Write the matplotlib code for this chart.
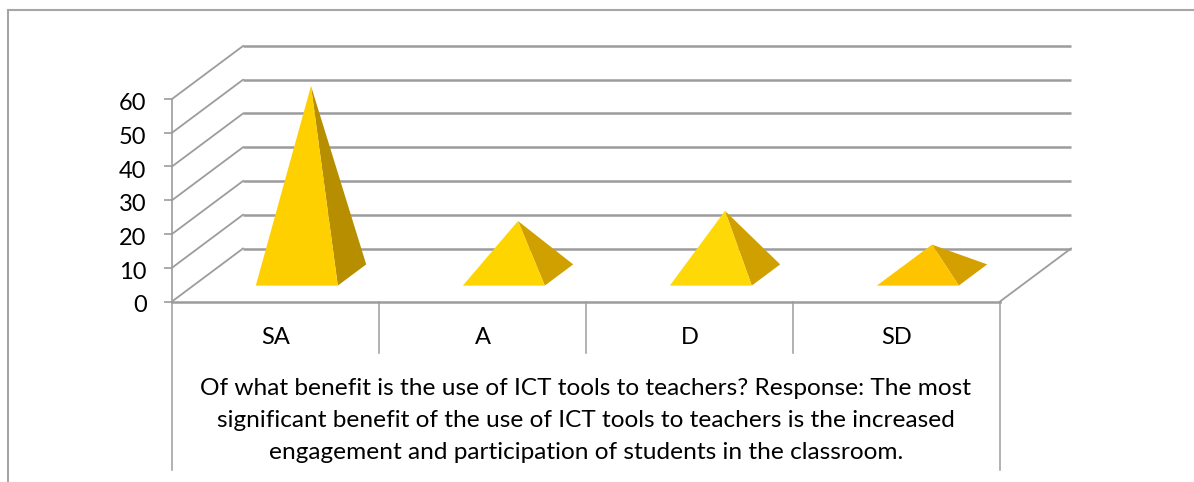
import matplotlib
matplotlib.use("Agg")
import matplotlib.pyplot as plt
from matplotlib.lines import Line2D
from matplotlib.transforms import ScaledTranslation

plt.rcParams['font.family'] = ['Lato', 'DejaVu Sans']

categories = ["SA", "A", "D", "SD"]
values = [56, 16, 19, 9]
front_colors = ["#FFD000", "#FFD500", "#FFD808", "#FFC400"]
side_colors = ["#B78E00", "#D0A000", "#CFA000", "#D4A000"]
y_ticks = [0, 10, 20, 30, 40, 50, 60]
axis_title = ("Of what benefit is the use of ICT tools to teachers? Response: The most\n"
              "significant benefit of the use of ICT tools to teachers is the increased\n"
              "engagement and participation of students in the classroom.")

W, H = 1194, 482
L, R, T, B = 172, 1000, 99, 301.5
fig = plt.figure(figsize=(W / 100, H / 100), dpi=100, facecolor="white")
ax = fig.add_axes([L / W, 1 - B / H, (R - L) / W, (B - T) / H])
ax.set_xlim(0, 4)
ax.set_ylim(0, 60)
ax.patch.set_alpha(0)

GRID = "#9C9C9C"
PX_X = 4 / (R - L)
PX_Y = 60 / (B - T)
DX = 71 * PX_X   # depth of the 3D box, in data units
DY = 53 * PX_Y


def proj(x, y, d):
    return x + d * DX, y + d * DY


# Wall gridlines and floor
for v in y_ticks:
    x0, y0 = proj(0, v, 0)
    x1, y1 = proj(0, v, 1)
    x2, y2 = proj(4, v, 1)
    ax.plot([x0, x1], [y0, y1], color=GRID, lw=1.3, clip_on=False, zorder=1)
    ax.plot([x1, x2], [y1, y2], color=GRID, lw=1.8, clip_on=False, zorder=1,
            solid_capstyle="butt")
fx, fy = proj(4, 0, 1)
ax.plot([4, fx], [0, fy], color=GRID, lw=1.3, clip_on=False, zorder=1)

# Pyramids
HALF = 41 * PX_X
BASE_FRONT, BASE_BACK, CENTER = 0.3, 0.7, 0.5
for i, (val, fc, sc) in enumerate(zip(values, front_colors, side_colors)):
    cx = i + 0.5
    fl = proj(cx - HALF, 0, BASE_FRONT)
    fr = proj(cx + HALF, 0, BASE_FRONT)
    br = proj(cx + HALF, 0, BASE_BACK)
    apex = proj(cx, val, CENTER)
    ax.fill([fr[0], br[0], apex[0]], [fr[1], br[1], apex[1]], color=sc, lw=0,
            clip_on=False, zorder=3)
    ax.fill([fl[0], fr[0], apex[0]], [fl[1], fr[1], apex[1]], color=fc, lw=0,
            clip_on=False, zorder=4)

# Axes
for s in ("top", "right"):
    ax.spines[s].set_visible(False)
ax.spines["left"].set_color(GRID)
ax.spines["left"].set_linewidth(1.2)
ax.spines["bottom"].set_color(GRID)
ax.spines["bottom"].set_linewidth(1.8)
ax.set_yticks(y_ticks)
ax.tick_params(axis="y", length=5.8, width=1.2, color=GRID, pad=12.5,
               labelsize=17, labelcolor="black")
shift = ScaledTranslation(0, -2.5 / 100, fig.dpi_scale_trans)
for lab in ax.get_yticklabels():
    lab.set_transform(lab.get_transform() + shift)
ax.set_xticks([i + 0.5 for i in range(len(categories))], categories)
ax.tick_params(axis="x", length=0, pad=18.5, labelsize=17, labelcolor="black")

# Multi-level category separators
short = -(353 - B) * PX_Y
long_ = -(470 - B) * PX_Y
for x in (1, 2, 3):
    ax.plot([x, x], [0, short], color=GRID, lw=1.1, clip_on=False, zorder=1)
for x in (0, 4):
    ax.plot([x, x], [0, long_], color=GRID, lw=1.1, clip_on=False, zorder=1)

ax.text(2, -(420.5 - B) * PX_Y, axis_title, ha="center", va="center",
        fontsize=17.6, color="black", linespacing=1.65, clip_on=False)

# Outer chart frame (top and left edges only)
fig.add_artist(Line2D([8 / W, 8 / W], [0, 1 - 9.5 / H], color="#A6A6A6", lw=1.5))
fig.add_artist(Line2D([8 / W, 1], [1 - 9.5 / H, 1 - 9.5 / H], color="#A6A6A6", lw=1.5))

fig.savefig("out.png", dpi=100, facecolor="white")
